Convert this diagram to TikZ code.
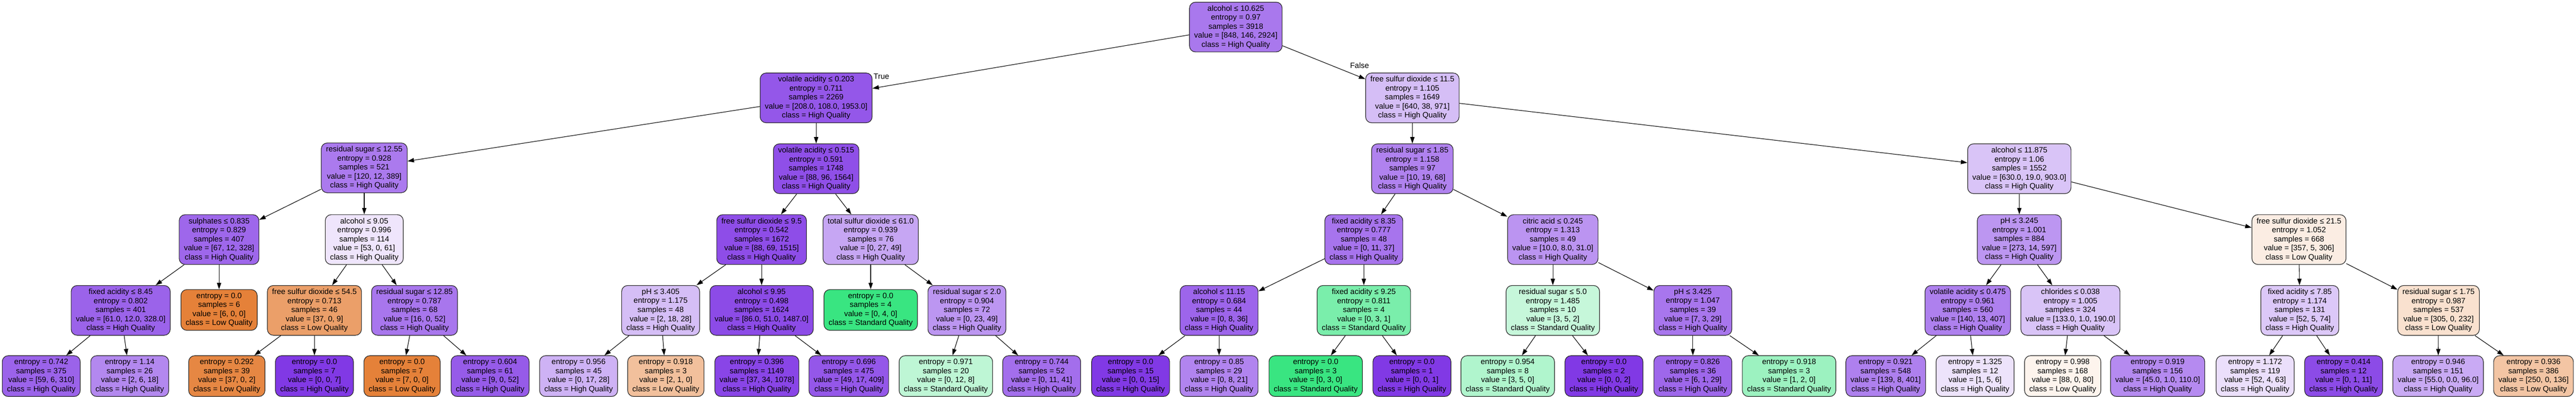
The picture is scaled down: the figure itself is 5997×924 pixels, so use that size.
\documentclass[tikz,border=0pt]{standalone}
\usepackage{fontspec}
\setmainfont{Liberation Sans}
\usetikzlibrary{arrows.meta}
\definecolor{lowq}{HTML}{E58139}
\definecolor{stdq}{HTML}{39E581}
\definecolor{highq}{HTML}{8139E5}
\tikzset{
  box/.style={draw=black!85, line width=1.4pt, rounded corners=14pt, align=center,
    inner xsep=11pt, inner ysep=0pt, font=\fontsize{18}{21}\selectfont},
  splitbox/.style={box, minimum height=116pt},
  leafbox/.style={box, minimum height=95pt},
  link/.style={-{Triangle[length=15pt,width=10pt]}, line width=1.3pt},
}
% split: name, x, y, fill, test, entropy, samples, value, class
\newcommand{\tsplit}[9]{\node[splitbox, fill=#4] (#1) at (#2,#3) {#5\\entropy = #6\\samples = #7\\value = #8\\class = #9};}
% leaf: name, x, y, fill, entropy, samples, value, class
\newcommand{\tleaf}[8]{\node[leafbox, fill=#4] (#1) at (#2,#3) {entropy = #5\\samples = #6\\value = #7\\class = #8};}

\begin{document}
\begin{tikzpicture}[x=1pt, y=-1pt]
        \useasboundingbox (0,0) rectangle (5997,924);
        % level 0
        \tsplit{root}{2877}{63}{highq!68!white}{alcohol ≤ 10.625}{0.97}{3918}{[848, 146, 2924]}{High Quality}
        % level 1
        \tsplit{a}{1900}{228}{highq!85!white}{volatile acidity ≤ 0.203}{0.711}{2269}{[208.0, 108.0, 1953.0]}{High Quality}
        \tsplit{b}{3288}{228}{highq!33!white}{free sulfur dioxide ≤ 11.5}{1.105}{1649}{[640, 38, 971]}{High Quality}
        % level 2
        \tsplit{aa}{848}{391}{highq!67!white}{residual sugar ≤ 12.55}{0.928}{521}{[120, 12, 389]}{High Quality}
        \tsplit{ab}{1900}{393}{highq!89!white}{volatile acidity ≤ 0.515}{0.591}{1748}{[88, 96, 1564]}{High Quality}
        \tsplit{ba}{3288}{393}{highq!63!white}{residual sugar ≤ 1.85}{1.158}{97}{[10, 19, 68]}{High Quality}
        \tsplit{bb}{4701}{393}{highq!30!white}{alcohol ≤ 11.875}{1.06}{1552}{[630.0, 19.0, 903.0]}{High Quality}
        % level 3
        \tsplit{aaa}{510}{558}{highq!77!white}{sulphates ≤ 0.835}{0.829}{407}{[67, 12, 328]}{High Quality}
        \tsplit{aab}{848}{558}{highq!13!white}{alcohol ≤ 9.05}{0.996}{114}{[53, 0, 61]}{High Quality}
        \tsplit{aba}{1773}{558}{highq!90!white}{free sulfur dioxide ≤ 9.5}{0.542}{1672}{[88, 69, 1515]}{High Quality}
        \tsplit{abb}{2027}{558}{highq!45!white}{total sulfur dioxide ≤ 61.0}{0.939}{76}{[0, 27, 49]}{High Quality}
        \tsplit{baa}{3175}{558}{highq!70!white}{fixed acidity ≤ 8.35}{0.777}{48}{[0, 11, 37]}{High Quality}
        \tsplit{bab}{3615}{558}{highq!54!white}{citric acid ≤ 0.245}{1.313}{49}{[10.0, 8.0, 31.0]}{High Quality}
        \tsplit{bba}{4701}{558}{highq!53!white}{pH ≤ 3.245}{1.001}{884}{[273, 14, 597]}{High Quality}
        \tsplit{bbb}{5352}{558}{lowq!14!white}{free sulfur dioxide ≤ 21.5}{1.052}{668}{[357, 5, 306]}{Low Quality}
        % level 4
        \tsplit{aaaa}{281}{723}{highq!79!white}{fixed acidity ≤ 8.45}{0.802}{401}{[61.0, 12.0, 328.0]}{High Quality}
        \tleaf{aaab}{510}{722}{lowq}{0.0}{6}{[6, 0, 0]}{Low Quality}
        \tsplit{aaba}{732}{723}{lowq!76!white}{free sulfur dioxide ≤ 54.5}{0.713}{46}{[37, 0, 9]}{Low Quality}
        \tsplit{aabb}{965}{723}{highq!69!white}{residual sugar ≤ 12.85}{0.787}{68}{[16, 0, 52]}{High Quality}
        \tsplit{abaa}{1538}{723}{highq!33!white}{pH ≤ 3.405}{1.175}{48}{[2, 18, 28]}{High Quality}
        \tsplit{abab}{1773}{723}{highq!91!white}{alcohol ≤ 9.95}{0.498}{1624}{[86.0, 51.0, 1487.0]}{High Quality}
        \tleaf{abba}{2027}{722}{stdq}{0.0}{4}{[0, 4, 0]}{Standard Quality}
        \tsplit{abbb}{2251}{723}{highq!53!white}{residual sugar ≤ 2.0}{0.904}{72}{[0, 23, 49]}{High Quality}
        \tsplit{baaa}{2838}{723}{highq!78!white}{alcohol ≤ 11.15}{0.684}{44}{[0, 8, 36]}{High Quality}
        \tsplit{baab}{3175}{723}{stdq!67!white}{fixed acidity ≤ 9.25}{0.811}{4}{[0, 3, 1]}{Standard Quality}
        \tsplit{baba}{3615}{723}{stdq!29!white}{residual sugar ≤ 5.0}{1.485}{10}{[3, 5, 2]}{Standard Quality}
        \tsplit{babb}{3941}{723}{highq!69!white}{pH ≤ 3.425}{1.047}{39}{[7, 3, 29]}{High Quality}
        \tsplit{bbaa}{4581}{723}{highq!64!white}{volatile acidity ≤ 0.475}{0.961}{560}{[140, 13, 407]}{High Quality}
        \tsplit{bbab}{4820}{723}{highq!30!white}{chlorides ≤ 0.038}{1.005}{324}{[133.0, 1.0, 190.0]}{High Quality}
        \tsplit{bbba}{5354}{723}{highq!28!white}{fixed acidity ≤ 7.85}{1.174}{131}{[52, 5, 74]}{High Quality}
        \tsplit{bbbb}{5677}{723}{lowq!24!white}{residual sugar ≤ 1.75}{0.987}{537}{[305, 0, 232]}{Low Quality}
        % level 5
        \tleaf{l1}{96}{876}{highq!79!white}{0.742}{375}{[59, 6, 310]}{High Quality}
        \tleaf{l2}{302}{876}{highq!60!white}{1.14}{26}{[2, 6, 18]}{High Quality}
        \tleaf{l3}{528}{876}{lowq!95!white}{0.292}{39}{[37, 0, 2]}{Low Quality}
        \tleaf{l4}{732}{876}{highq}{0.0}{7}{[0, 0, 7]}{High Quality}
        \tleaf{l5}{936}{876}{lowq}{0.0}{7}{[7, 0, 0]}{Low Quality}
        \tleaf{l6}{1141}{876}{highq!83!white}{0.604}{61}{[9, 0, 52]}{High Quality}
        \tleaf{l7}{1347}{876}{highq!39!white}{0.956}{45}{[0, 17, 28]}{High Quality}
        \tleaf{l8}{1550}{876}{lowq!50!white}{0.918}{3}{[2, 1, 0]}{Low Quality}
        \tleaf{l9}{1762}{876}{highq!94!white}{0.396}{1149}{[37, 34, 1078]}{High Quality}
        \tleaf{l10}{1976}{876}{highq!85!white}{0.696}{475}{[49, 17, 409]}{High Quality}
        \tleaf{l11}{2202}{876}{stdq!33!white}{0.971}{20}{[0, 12, 8]}{Standard Quality}
        \tleaf{l12}{2425}{876}{highq!73!white}{0.744}{52}{[0, 11, 41]}{High Quality}
        \tleaf{l13}{2632}{876}{highq}{0.0}{15}{[0, 0, 15]}{High Quality}
        \tleaf{l14}{2838}{876}{highq!62!white}{0.85}{29}{[0, 8, 21]}{High Quality}
        \tleaf{l15}{3063}{876}{stdq}{0.0}{3}{[0, 3, 0]}{Standard Quality}
        \tleaf{l16}{3287}{876}{highq}{0.0}{1}{[0, 0, 1]}{High Quality}
        \tleaf{l17}{3510}{876}{stdq!40!white}{0.954}{8}{[3, 5, 0]}{Standard Quality}
        \tleaf{l18}{3734}{876}{highq}{0.0}{2}{[0, 0, 2]}{High Quality}
        \tleaf{l19}{3941}{876}{highq!77!white}{0.826}{36}{[6, 1, 29]}{High Quality}
        \tleaf{l20}{4165}{876}{stdq!50!white}{0.918}{3}{[1, 2, 0]}{Standard Quality}
        \tleaf{l21}{4390}{876}{highq!64!white}{0.921}{548}{[139, 8, 401]}{High Quality}
        \tleaf{l22}{4598}{876}{highq!14!white}{1.325}{12}{[1, 5, 6]}{High Quality}
        \tleaf{l23}{4802}{876}{lowq!9!white}{0.998}{168}{[88, 0, 80]}{Low Quality}
        \tleaf{l24}{5023}{876}{highq!59!white}{0.919}{156}{[45.0, 1.0, 110.0]}{High Quality}
        \tleaf{l25}{5250}{876}{highq!16!white}{1.172}{119}{[52, 4, 63]}{High Quality}
        \tleaf{l26}{5456}{876}{highq!91!white}{0.414}{12}{[0, 1, 11]}{High Quality}
        \tleaf{l27}{5676}{876}{highq!43!white}{0.946}{151}{[55.0, 0.0, 96.0]}{High Quality}
        \tleaf{l28}{5898}{876}{lowq!46!white}{0.936}{386}{[250, 0, 136]}{Low Quality}
        % branch labels
        \node[font=\fontsize{18}{21}\selectfont] (truelabel) at (2052,178) {True};
        \node[font=\fontsize{18}{21}\selectfont] (falselabel) at (3165,153) {False};
        % edges
        \foreach \p/\c in {root/a, root/b, a/aa, a/ab, b/ba, b/bb,
            aa/aaa, aa/aab, ab/aba, ab/abb, ba/baa, ba/bab, bb/bba, bb/bbb,
            aaa/aaaa, aaa/aaab, aab/aaba, aab/aabb, aba/abaa, aba/abab, abb/abba, abb/abbb,
            baa/baaa, baa/baab, bab/baba, bab/babb, bba/bbaa, bba/bbab, bbb/bbba, bbb/bbbb,
            aaaa/l1, aaaa/l2, aaba/l3, aaba/l4, aabb/l5, aabb/l6, abaa/l7, abaa/l8,
            abab/l9, abab/l10, abbb/l11, abbb/l12, baaa/l13, baaa/l14, baab/l15, baab/l16,
            baba/l17, baba/l18, babb/l19, babb/l20, bbaa/l21, bbaa/l22, bbab/l23, bbab/l24,
            bbba/l25, bbba/l26, bbbb/l27, bbbb/l28}
            \draw[link] (\p) -- (\c);
\end{tikzpicture}
\end{document}
